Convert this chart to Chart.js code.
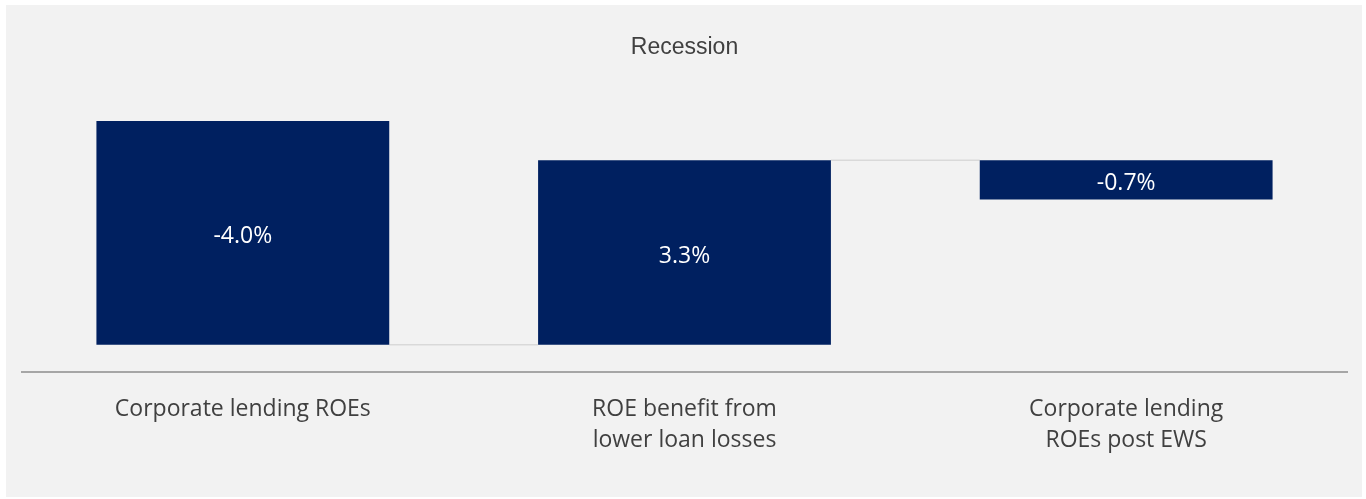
<!DOCTYPE html>
<html>
<head>
<meta charset="utf-8">
<title>Recession</title>
<script src="https://cdn.jsdelivr.net/npm/chart.js@4/dist/chart.umd.min.js"></script>
<style>
  html, body { margin: 0; padding: 0; background: #ffffff; }
  #panel {
    position: absolute;
    left: 6px; top: 5px;
    width: 1356px; height: 492px;
    background: #f2f2f2;
  }
</style>
</head>
<body>
<div id="panel"><canvas id="chart" width="1356" height="492"></canvas></div>
<script>
// Waterfall steps
const categories = [
  'Corporate lending ROEs',
  ['ROE benefit from', 'lower loan losses'],
  ['Corporate lending', 'ROEs post EWS']
];
const values = [-4.0, 3.3, -0.7];
const valueLabels = ['-4.0%', '3.3%', '-0.7%'];

// floating ranges: each step starts where the previous one ended
let level = -values[0];
const ranges = values.map(v => {
  const r = [level, level + v];
  level += v;
  return r;
});

const barColor = '#002060';

// thin lines joining the end of one step to the start of the next
const connectors = {
  id: 'connectors',
  beforeDatasetsDraw(chart) {
    const meta = chart.getDatasetMeta(0);
    const y = chart.scales.y;
    const ctx = chart.ctx;
    ctx.save();
    ctx.strokeStyle = '#d9d9d9';
    ctx.lineWidth = 1.5;
    for (let i = 0; i < meta.data.length - 1; i++) {
      const a = meta.data[i], b = meta.data[i + 1];
      const yy = y.getPixelForValue(ranges[i][1]);
      ctx.beginPath();
      ctx.moveTo(a.x + a.width / 2, yy);
      ctx.lineTo(b.x - b.width / 2, yy);
      ctx.stroke();
    }
    ctx.restore();
  }
};

// value text in the middle of each bar
const barText = {
  id: 'barText',
  afterDatasetsDraw(chart) {
    const meta = chart.getDatasetMeta(0);
    const ctx = chart.ctx;
    ctx.save();
    ctx.fillStyle = '#ffffff';
    ctx.font = '23px "Open Sans", sans-serif';
    ctx.textAlign = 'center';
    ctx.textBaseline = 'middle';
    meta.data.forEach((bar, i) => {
      ctx.fillText(valueLabels[i], bar.x, (bar.y + bar.base) / 2 + 4);
    });
    ctx.restore();
  }
};

new Chart(document.getElementById('chart'), {
  type: 'bar',
  data: {
    labels: categories,
    datasets: [{
      data: ranges,
      backgroundColor: barColor,
      borderWidth: 0,
      barPercentage: 0.663,
      categoryPercentage: 1.0
    }]
  },
  options: {
    responsive: false,
    animation: false,
    layout: { padding: { left: 16, right: 15, bottom: 19 } },
    plugins: {
      legend: { display: false },
      tooltip: { enabled: false },
      title: {
        display: true,
        text: 'Recession',
        color: '#404040',
        font: { family: '"Liberation Sans", Arial, sans-serif', size: 23, weight: 'normal', lineHeight: 1.2 },
        padding: { top: 29, bottom: 31.5 }
      }
    },
    scales: {
      x: {
        grid: { display: false, drawTicks: false },
        border: { display: true, color: '#a6a6a6', width: 2 },
        ticks: {
          color: '#404040',
          padding: 22,
          maxRotation: 0,
          font: { family: '"Open Sans", sans-serif', size: 23, lineHeight: 1.35 }
        }
      },
      y: {
        display: false,
        min: -0.484,
        max: 4.5
      }
    }
  },
  plugins: [connectors, barText]
});
</script>
</body>
</html>
